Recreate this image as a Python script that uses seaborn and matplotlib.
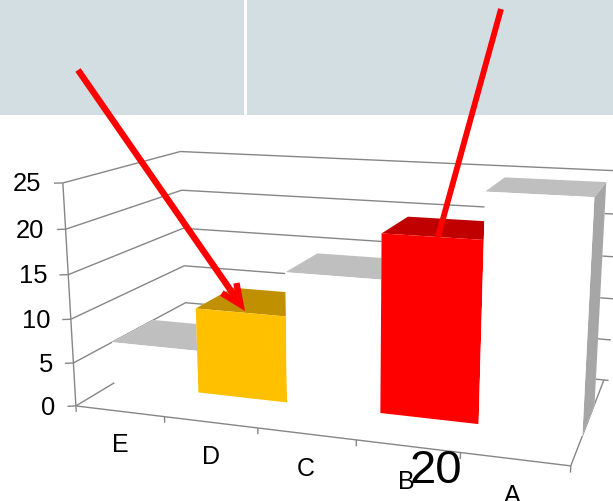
import numpy as np
import matplotlib
matplotlib.use('Agg')
import matplotlib.pyplot as plt
import seaborn as sns
from matplotlib.lines import Line2D
from matplotlib.patches import Rectangle, FancyArrowPatch
from mpl_toolkits.mplot3d import proj3d

categories = ['E', 'D', 'C', 'B', 'A']
values = [5, 10, 15, 20, 25]
value_ticks = [0, 5, 10, 15, 20, 25]
front_colors = ['#ffffff', '#ffc000', '#ffffff', '#ff0000', '#ffffff']
top_colors = ['#bfbfbf', '#c09000', '#bfbfbf', '#c00000', '#bfbfbf']
side_colors = ['#ffffff', '#ffc000', '#ffffff', '#ff0000', '#a6a6a6']
AXIS_GREY = '#868686'

sns.set_theme(style='white', rc={'font.family': ['Liberation Sans', 'DejaVu Sans']})
W, H = 613, 502
fig = plt.figure(figsize=(W / 100, H / 100), dpi=100, facecolor='white')
ax = fig.add_subplot(projection='3d', computed_zorder=False)
ax.set_xlim(0, 5)
ax.set_ylim(0, 1)
ax.set_zlim(0, 25)
ax.set_proj_type('persp', focal_length=1)
ax.view_init(elev=13.7893, azim=-71.5935)
ax.set_box_aspect((1, 0.5094, 0.4572), zoom=2.6327)
ax.set_xticks([])
ax.set_yticks([])
ax.set_zticks([])
ax.set_axis_off()
ax.patch.set_visible(False)

# place the square 3D axes so that its scale is the wanted one
S, TX, TY = 1173.9, 348.6, 288.0
ax.set_position([0.2, 0.2, 0.5, 0.5 * W / H])
ax.apply_aspect()
bb = ax.get_position(original=False)
x0, y0 = ax.transData.transform((0, 0))
x1, _ = ax.transData.transform((1, 1))
side = bb.width * W
cx, cy = (x0 - bb.x0 * W) / side, (y0 - bb.y0 * H) / side
side2 = side * S / (x1 - x0)
ax.set_position([(TX - cx * side2) / W, (H - TY - cy * side2) / H, side2 / W, side2 / H])

def line3d(xs, ys, zs, z=1, lw=1.0):
    ln, = ax.plot(xs, ys, zs, color=AXIS_GREY, lw=lw, zorder=z, solid_capstyle='butt')
    ln.set_clip_on(False)

def label3d(x, y, z, s, **kw):
    # project the 3D anchor through the axes' own camera, then write plain 2D text
    X, Y, _ = proj3d.proj_transform(x, y, z, ax.get_proj())
    ax.text2D(X, Y, s, transform=ax.transData, color='black', zorder=30, clip_on=False, **kw)

# walls
for v in value_ticks:
    line3d([0, 0, 5.05], [0, 1, 1], [v, v, v])
line3d([0, 5], [0, 0], [0, 0], z=20)
line3d([5, 5], [0, 1], [0, 0], z=1)
line3d([0, 0], [0, 0], [0, 25], z=20)
for v in value_ticks:
    line3d([0, -0.075], [0, -0.015], [v, v], z=20)
    label3d(-0.18, -0.036, v, str(v), ha='right', va='center', fontsize=18.4)
for i in range(6):
    line3d([i, i], [0, 0], [0, -0.7], z=20)

# bars
Y0, Y1 = 0.305, 0.6752
for i, (cat, v) in enumerate(zip(categories, values)):
    col = ax.bar3d([i], [Y0], [0], [1], [Y1 - Y0], [v], shade=False,
                   color=['#ffffff', top_colors[i], front_colors[i], '#ffffff', '#ffffff', side_colors[i]])
    col.set_zorder(5 + i)
    col.set_clip_on(False)
    col.set_linewidth(0)
    label3d(i + 0.49, 0, -3.85, cat, ha='center', va='center', fontsize=18)
ax.set_xlim(0, 5)
ax.set_ylim(0, 1)
ax.set_zlim(0, 25)

# overlays in pixel positions of the slide
def fx(x): return x / W
def fy(y): return 1 - y / H
fig.add_artist(Rectangle((0, fy(116)), 1, 116 / H, transform=fig.transFigure, fc='#d3dee3', ec='none', zorder=-1))
fig.add_artist(Rectangle((fx(244), fy(116)), 3 / W, 116 / H, transform=fig.transFigure, fc='white', ec='none', zorder=-0.5))
fig.add_artist(Line2D([fx(501), fx(438)], [fy(10), fy(238)], transform=fig.transFigure, color='#ff0000', lw=4.2,
                      solid_capstyle='butt', zorder=50))
fig.add_artist(FancyArrowPatch((fx(78), fy(71)), (fx(245), fy(312)), transform=fig.transFigure,
                               arrowstyle='->,head_length=3.6,head_width=1.6', mutation_scale=4,
                               color='#ff0000', lw=4.6, shrinkA=0, shrinkB=0, zorder=50,
                               capstyle='butt', joinstyle='miter'))
fig.text(fx(436), fy(471), '20', fontsize=34, color='black', ha='center', va='center', zorder=60)

fig.savefig('out.png', dpi=100)
